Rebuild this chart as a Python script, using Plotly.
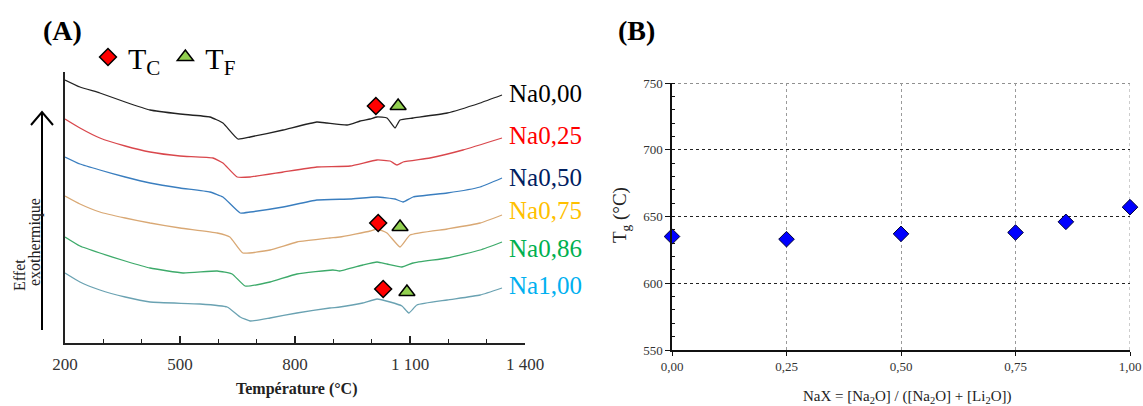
import plotly.graph_objects as go

W, H = 1143, 406
SERIF = "Liberation Serif, Times New Roman, serif"

# ---------------- Panel A data (DTA curves, arbitrary offset units) ----------------
t_na000 = [200, 239, 291, 357, 422, 500, 578, 612, 651, 683, 769, 857, 883, 936, 970, 996, 1014, 1040, 1061, 1074, 1108, 1197, 1283, 1340]
v_na000 = [263, 256, 250, 241, 233, 229, 226, 220, 204, 206, 213, 221, 220, 218, 222, 224, 226, 225, 215, 223, 225, 230, 240, 248]

t_na025 = [200, 239, 291, 357, 422, 500, 586, 612, 649, 683, 769, 857, 944, 1014, 1048, 1066, 1082, 1152, 1238, 1340]
v_na025 = [224, 215, 205, 197, 191, 187, 185, 180, 166, 166, 171, 176, 177, 183, 182, 178, 181, 185, 193, 205]

t_na050 = [200, 239, 291, 357, 422, 500, 578, 612, 657, 683, 769, 857, 944, 1014, 1061, 1082, 1108, 1197, 1283, 1340]
v_na050 = [186, 179, 173, 166, 160, 155, 151, 146, 130, 131, 136, 143, 144, 146, 144, 141, 146, 150, 156, 165]

t_na075 = [200, 239, 291, 357, 422, 500, 597, 630, 664, 735, 805, 891, 917, 996, 1014, 1040, 1074, 1100, 1197, 1283, 1340]
v_na075 = [147, 139, 131, 125, 120, 115, 110, 106, 90, 93, 101, 105, 106, 112, 114, 110, 96, 108, 114, 120, 128]

t_na086 = [200, 239, 291, 357, 422, 508, 597, 636, 670, 735, 805, 899, 917, 977, 1014, 1040, 1079, 1108, 1197, 1283, 1340]
v_na086 = [106, 97, 90, 82, 75, 70, 72, 69, 57, 61, 69, 73, 72, 78, 81, 79, 76, 80, 85, 93, 101]

t_na100 = [200, 239, 291, 357, 422, 552, 623, 657, 683, 735, 805, 891, 917, 977, 1014, 1048, 1079, 1097, 1118, 1197, 1283, 1340]
v_na100 = [70, 61, 53, 46, 41, 39, 36, 26, 22, 25, 30, 35, 36, 40, 44, 41, 37, 30, 38, 43, 48, 55]

curve_names = ["Na0,00", "Na0,25", "Na0,50", "Na0,75", "Na0,86", "Na1,00"]
curve_colors = ["#222222", "#D9474C", "#3A7EBF", "#D9A874", "#3DAA6A", "#6AA2B2"]
label_colors = ["#000000", "#FF0000", "#002060", "#FFC000", "#00B050", "#00B0F0"]
label_v = [250, 208, 166, 133, 95, 58]
label_t = 1352

# crystallisation (Tc) and melting (Tf) markers
tc_t = [1011, 1017, 1030]
tc_v = [237, 120, 54]
tf_t = [1069, 1074, 1092]
tf_v = [237, 116, 51]

xa_ticks = [200, 500, 800, 1100, 1400]
xa_ticktext = ["200", "500", "800", "1 100", "1 400"]

# ---------------- Panel B data ----------------
nax = [0.0, 0.25, 0.50, 0.75, 0.86, 1.00]
tg = [635, 633, 637, 638, 646, 657]
xb_ticks = [0.0, 0.25, 0.5, 0.75, 1.0]
xb_ticktext = ["0,00", "0,25", "0,50", "0,75", "1,00"]
xb_range = [0, 1]
yb_range = [550, 750]


def px(x):
    return x / W


def py(y):
    return 1 - y / H


fig = go.Figure()

all_t = [t_na000, t_na025, t_na050, t_na075, t_na086, t_na100]
all_v = [v_na000, v_na025, v_na050, v_na075, v_na086, v_na100]
for t, v, c, n in zip(all_t, all_v, curve_colors, curve_names):
    fig.add_trace(go.Scatter(x=t, y=v, mode="lines", name=n,
                             line=dict(color=c, width=1.3, shape="spline", smoothing=0.4),
                             showlegend=False, xaxis="x", yaxis="y"))

fig.add_trace(go.Scatter(x=tc_t, y=tc_v, mode="markers", name="T<sub>C</sub>",
                         marker=dict(symbol="diamond", size=13, color="#FF0000",
                                     line=dict(color="black", width=1.5)),
                         xaxis="x", yaxis="y"))
fig.add_trace(go.Scatter(x=tf_t, y=tf_v, mode="markers", name="T<sub>F</sub>",
                         marker=dict(symbol="triangle-up", size=14, color="#92D050",
                                     line=dict(color="black", width=1.5)),
                         xaxis="x", yaxis="y"))

fig.add_trace(go.Scatter(x=nax, y=tg, mode="markers", showlegend=False,
                         marker=dict(symbol="diamond", size=12, color="#0000FF",
                                     line=dict(color="#000033", width=1)),
                         cliponaxis=False, xaxis="x2", yaxis="y2"))

annotations = []
for n, col, lv in zip(curve_names, label_colors, label_v):
    annotations.append(dict(x=label_t, y=lv, xref="x", yref="y", text=n, showarrow=False,
                            xanchor="left", yanchor="middle",
                            font=dict(family=SERIF, size=25, color=col)))


def note(x, y, text, size, angle=0, color="#222"):
    return dict(x=px(x), y=py(y), xref="paper", yref="paper", text=text, showarrow=False,
                xanchor="center", yanchor="middle", textangle=angle,
                font=dict(family=SERIF, size=size, color=color))


annotations += [
    note(62, 30, "<b>(A)</b>", 28, color="black"),
    note(636, 30, "<b>(B)</b>", 28, color="black"),
    note(19, 275, "Effet", 16, angle=-90),
    note(35, 242, "exothermique", 16, angle=-90),
    note(296, 389, "<b>Température (°C)</b>", 16),
    note(621, 215, "T<sub>g</sub> (°C)", 19, angle=-90),
    note(907, 397, "NaX = [Na<sub>2</sub>O] / ([Na<sub>2</sub>O] + [Li<sub>2</sub>O])", 15),
]

shapes = [
    dict(type="line", xref="paper", yref="paper", x0=px(42), x1=px(42), y0=py(330), y1=py(112),
         line=dict(color="black", width=2)),
    dict(type="path", xref="paper", yref="paper",
         path=f"M {px(31)},{py(125)} L {px(42)},{py(112)} L {px(53)},{py(125)}",
         line=dict(color="black", width=2)),
    # edge gridlines of panel B (top at 750, right at 1,00)
    dict(type="line", xref="x2", yref="y2", x0=xb_range[0], x1=xb_range[1],
         y0=yb_range[1], y1=yb_range[1], line=dict(color="#222", width=1, dash="dot"), layer="below"),
    dict(type="line", xref="x2", yref="y2", x0=xb_range[1], x1=xb_range[1],
         y0=yb_range[0], y1=yb_range[1], line=dict(color="#9a9a9a", width=1, dash="dot"), layer="below"),
]

fig.update_layout(
    template="none",
    width=W, height=H,
    margin=dict(l=0, r=0, t=0, b=0, pad=0, autoexpand=False),
    paper_bgcolor="white", plot_bgcolor="white",
    font=dict(family=SERIF, color="#333"),
    showlegend=True,
    legend=dict(orientation="h", x=px(88), y=py(57), xanchor="left", yanchor="middle",
                font=dict(family=SERIF, size=30, color="black"), bgcolor="rgba(0,0,0,0)",
                borderwidth=0, itemwidth=30, tracegroupgap=0),
    annotations=annotations,
    shapes=shapes,
    xaxis=dict(domain=[px(65), px(525)], range=[200, 1400], tickvals=xa_ticks, ticktext=xa_ticktext,
               showline=True, linecolor="#222", linewidth=1.5, ticks="inside", ticklen=7,
               tickcolor="#222", tickwidth=1.5, showgrid=False, zeroline=False, automargin=False,
               ticklabelstandoff=5,
               minor=dict(dtick=100, ticks="inside", ticklen=4, tickcolor="#222", tickwidth=1,
                          showgrid=False),
               tickfont=dict(family=SERIF, size=17, color="#333"), anchor="y"),
    yaxis=dict(domain=[py(343), py(72)], range=[0, 271], showline=True, linecolor="#222",
               linewidth=1.5, showticklabels=False, ticks="", showgrid=False, zeroline=False,
               automargin=False, anchor="x"),
    xaxis2=dict(domain=[px(672), px(1130)], range=xb_range, tickvals=xb_ticks, ticktext=xb_ticktext,
                showline=True, linecolor="#111", linewidth=1.5, ticks="outside", ticklen=4,
                tickcolor="#111", showgrid=True, gridcolor="#9a9a9a", griddash="dot", gridwidth=1,
                zeroline=False, automargin=False,
                tickfont=dict(family=SERIF, size=13, color="#333"), anchor="y2"),
    yaxis2=dict(domain=[py(350), py(83)], range=yb_range, dtick=50,
                showline=True, linecolor="#111", linewidth=1.5, ticks="outside", ticklen=5,
                tickcolor="#111", showgrid=True, gridcolor="#222", griddash="dot", gridwidth=1,
                minor=dict(dtick=10, ticks="inside", ticklen=3, tickcolor="#111", showgrid=False),
                zeroline=False, automargin=False,
                tickfont=dict(family=SERIF, size=13, color="#333"), anchor="x2"),
)

fig.write_html("out.html", config={"displayModeBar": False},
               post_script="document.body.style.margin='0';")
